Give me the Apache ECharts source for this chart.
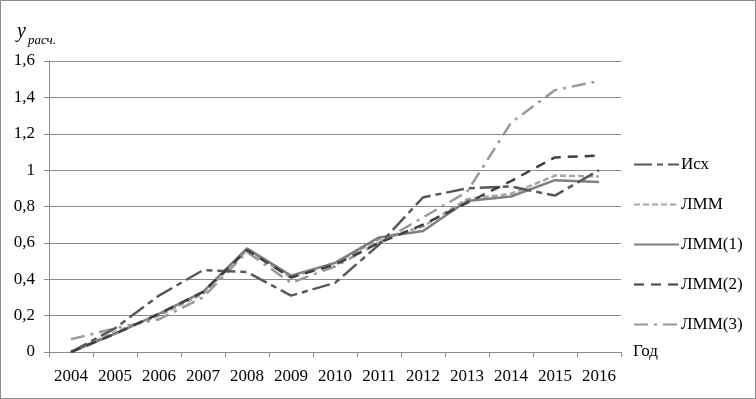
<!DOCTYPE html>
<html><head><meta charset="utf-8">
<script src="https://cdn.jsdelivr.net/npm/echarts@6/dist/echarts.min.js"></script>
<style>html,body{margin:0;padding:0;background:#fff}#c{width:756px;height:399px}</style>
</head><body><div id="c"></div>
<script>
var years = ['2004','2005','2006','2007','2008','2009','2010','2011','2012','2013','2014','2015','2016'];
var iskh = [0.00, 0.13, 0.31, 0.45, 0.44, 0.31, 0.38, 0.59, 0.85, 0.90, 0.91, 0.86, 1.00];
var lmm  = [0.00, 0.11, 0.20, 0.32, 0.56, 0.41, 0.49, 0.62, 0.69, 0.84, 0.87, 0.97, 0.965];
var lmm1 = [0.00, 0.10, 0.21, 0.33, 0.57, 0.42, 0.49, 0.63, 0.665, 0.83, 0.855, 0.945, 0.935];
var lmm2 = [0.00, 0.10, 0.21, 0.33, 0.56, 0.41, 0.48, 0.60, 0.70, 0.82, 0.94, 1.07, 1.08];
var lmm3 = [0.07, 0.13, 0.18, 0.30, 0.55, 0.38, 0.47, 0.60, 0.74, 0.88, 1.26, 1.44, 1.49];
var names = ['Исх','ЛММ','ЛММ(1)','ЛММ(2)','ЛММ(3)'];

var serif = '"Liberation Serif", "Times New Roman", serif';
function mk(name, data, color, type, width, z){
  return {name:name, type:'line', data:data, symbol:'none', z:z,
    lineStyle:{color:color, width:width, type:type}, itemStyle:{color:color}};
}
var chart = echarts.init(document.getElementById('c'));
chart.setOption({
  animation:false,
  grid:{left:49, right:135, top:61, bottom:47},
  graphic:[
    {type:'rect', shape:{x:0.5,y:0.5,width:755,height:398}, style:{fill:'none', stroke:'#8c8c8c', lineWidth:1}, silent:true},
    {type:'text', left:17, top:22, style:{text:'y', font:'italic 20px "Liberation Serif"', fill:'#000'}},
    {type:'text', left:28, top:34, style:{text:'расч.', font:'italic 13px "Liberation Serif"', fill:'#000'}}
  ],
  legend:{orient:'vertical', left:628, top:151, itemWidth:45, itemHeight:14, itemGap:23,
    itemStyle:{opacity:0},
    data:names, textStyle:{fontFamily:serif, fontSize:17, color:'#000', padding:[0,0,0,-3]}},
  xAxis:{type:'category', data:years, boundaryGap:true,
    name:'Год', nameLocation:'end', nameGap:12,
    nameTextStyle:{fontFamily:serif, fontSize:17, color:'#000', verticalAlign:'middle'},
    axisLine:{lineStyle:{color:'#8c8c8c', width:1}},
    axisTick:{show:true, length:5, interval:0, lineStyle:{color:'#8c8c8c'}},
    axisLabel:{fontFamily:serif, fontSize:17, color:'#000', margin:16, interval:0}},
  yAxis:{type:'value', min:0, max:1.6, interval:0.2,
    axisLine:{show:true, lineStyle:{color:'#8c8c8c', width:1}},
    axisTick:{show:true, length:5, lineStyle:{color:'#8c8c8c'}},
    splitLine:{lineStyle:{color:'#8c8c8c', width:1}},
    axisLabel:{fontFamily:serif, fontSize:17, color:'#000', margin:14,
      formatter:function(v){return String(Math.round(v*10)/10).replace('.',',');}}},
  series:[
    mk(names[0], iskh, '#595959', [18,5,6,5], 2.5, 5),
    mk(names[1], lmm,  '#a6a6a6', [6,3], 2.5, 3),
    mk(names[2], lmm1, '#7f7f7f', 'solid', 2.5, 4),
    mk(names[3], lmm2, '#404040', [10,7], 2.5, 6),
    mk(names[4], lmm3, '#999999', [14,6,3,6], 2.5, 2)
  ]
});
</script></body></html>
